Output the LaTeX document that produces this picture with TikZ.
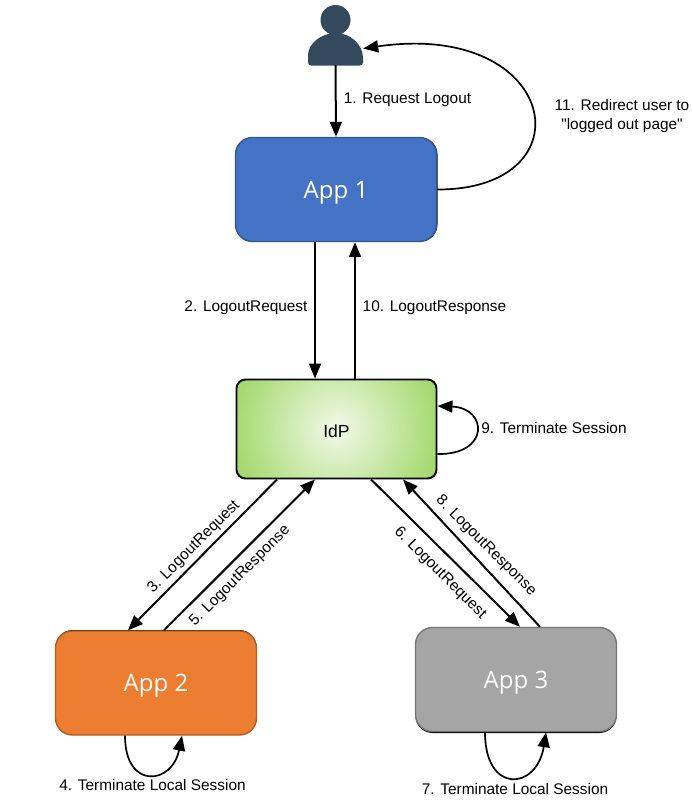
\documentclass[tikz,border=0pt]{standalone}
\usepackage{fontspec}
\newfontfamily\labelfont{Liberation Sans}
\newfontfamily\appfont{Open Sans}
\usetikzlibrary{arrows.meta}
\definecolor{Ca}{HTML}{4472C4}
\definecolor{Cb}{HTML}{ED7D31}
\definecolor{Cc}{HTML}{A5A5A5}
\definecolor{Cu}{HTML}{34495E}
\definecolor{Cg}{HTML}{A4D96E}
\pgfdeclareradialshading{idpglow}{\pgfpoint{0bp}{0bp}}{%
	color(0bp)=(white!85!Cg); color(23bp)=(Cg); color(25bp)=(Cg)}
\tikzset{
	appbox/.style={rounded corners=17pt, minimum width=201pt, minimum height=104pt, inner sep=0pt,
		line width=1.4pt, text=white, text height=17pt, text depth=0pt,
		font=\appfont\fontsize{24}{28}\selectfont},
	msg/.style={-{Triangle[length=15pt,width=12pt]}, line width=2pt},
	loopmsg/.style={-{Triangle[length=15pt,width=12pt]}, line width=1.7pt},
	steplabel/.style={font=\labelfont\fontsize{15.4}{19}\selectfont, align=center, inner sep=0pt}
}

\begin{document}
\begin{tikzpicture}[x=1pt, y=-1pt]
	\useasboundingbox (0,0) rectangle (693,801);
	
	%% user figure
	\node (user) [minimum width=55pt, minimum height=33pt, inner sep=0pt] at (335.5,48.5) {};
	\fill[Cu] (335.5,20) circle (15);
	\fill[Cu, rounded corners=3pt] (308,65.5) -- (308,58) [sharp corners] .. controls (308,44) and (321,33) .. (335.5,33)
	.. controls (350,33) and (363,44) .. (363,58) [rounded corners=3pt] -- (363,65.5) -- cycle;
	
	%% boxes
	\node (app1) [appbox, draw=Ca!75!black, fill=Ca,
	preaction={fill=black, transform canvas={xshift=1pt}}] at (336,189.5) {App 1};
	\node (idp) [rounded corners=9pt, minimum width=200pt, minimum height=99pt, inner sep=0pt,
	draw=black, line width=1.9pt, text height=16pt, text depth=0pt, font=\labelfont\fontsize{17.5}{20}\selectfont,
	path picture={\shade[shading=idpglow] (path picture bounding box.center) circle (112pt);}] at (336.5,429) {IdP};
	\node (app2) [appbox, draw=Cb!75!black, fill=Cb,
	preaction={fill=black, transform canvas={yshift=1pt}}] at (156,683) {App 2};
	\node (app3) [appbox, draw=Cc!72!black, fill=Cc,
	preaction={fill=black, transform canvas={yshift=-1.5pt}}] at (516,679.5) {App 3};
	
	%% arrows, top part
	\draw[msg] (user.south) -- (app1.north);
	\draw[loopmsg] (app1.east) .. controls (590,190) and (560,20) .. (user.east);
	\draw[msg] ([xshift=-21pt]app1.south) -- ([xshift=-21.5pt]idp.north);
	\draw[msg] ([xshift=18.5pt]idp.north) -- ([xshift=19pt]app1.south);
	\draw[loopmsg] ([yshift=-25pt]idp.east) .. controls (490,455) and (488,408) .. ([yshift=23pt]idp.east);
	
	%% arrows, bottom part
	\draw[msg] ([xshift=-59.5pt]idp.south) -- ([xshift=-28pt]app2.north);
	\draw[msg] ([xshift=8pt]app2.north) -- ([xshift=-21.5pt]idp.south);
	\draw[msg] ([xshift=34.5pt]idp.south) -- ([xshift=4pt]app3.north);
	\draw[msg] ([xshift=24pt]app3.north) -- ([xshift=66.5pt]idp.south);
	\draw[loopmsg] ([xshift=-31pt]app2.south) .. controls (125,790) and (172,785) .. ([xshift=26pt]app2.south);
	\draw[loopmsg] ([xshift=-31pt]app3.south) .. controls (485,795) and (537,790) .. ([xshift=30pt]app3.south);
	
	%% labels
	\node (lab1) [steplabel] at (407.5,100) {1. Request Logout};
	\node (lab2) [steplabel] at (246,307.5) {2. LogoutRequest};
	\node (lab10) [steplabel] at (434.5,307.5) {10. LogoutResponse};
	\node (lab9) [steplabel] at (554,428) {9. Terminate Session};
	\node (lab11) [steplabel] at (622,116) {11. Redirect user to\\"logged out page"};
	\node (lab3) [steplabel, rotate=45] at (194,547) {3. LogoutRequest};
	\node (lab5) [steplabel, rotate=45] at (240,576) {5. LogoutResponse};
	\node (lab6) [steplabel, rotate=-45] at (440,573) {6. LogoutRequest};
	\node (lab8) [steplabel, rotate=-45] at (486,546) {8. LogoutResponse};
	\node (lab4) [steplabel] at (152.5,785) {4. Terminate Local Session};
	\node (lab7) [steplabel] at (515,789) {7. Terminate Local Session};
	
\end{tikzpicture}
\end{document}
